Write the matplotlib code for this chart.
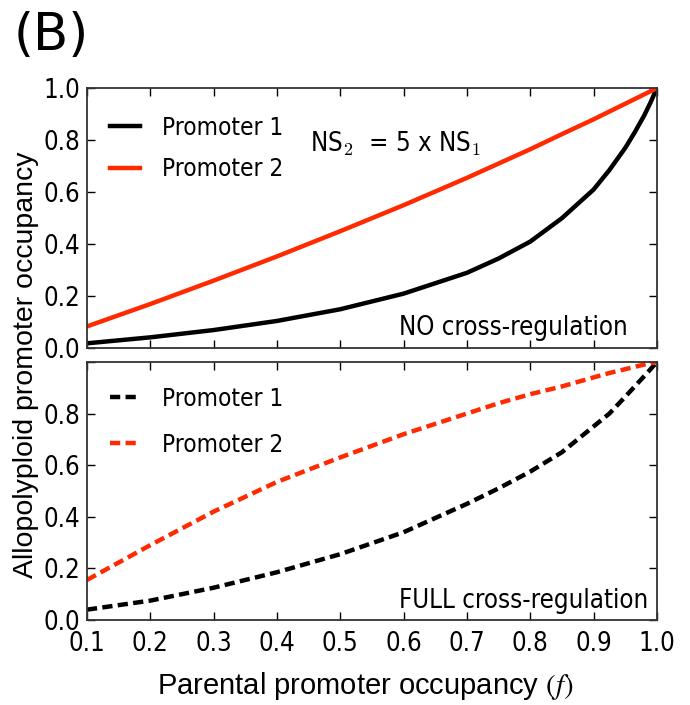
import matplotlib
matplotlib.use('Agg')
import matplotlib.pyplot as plt
from matplotlib import font_manager
from matplotlib.font_manager import FontProperties

# parental promoter occupancy f
f_vals = [0.1, 0.2, 0.3, 0.4, 0.5, 0.6, 0.7, 0.75, 0.8, 0.85, 0.9, 0.925, 0.95, 0.965, 0.98, 0.99, 1.0]

# NO cross-regulation
no_p1 = [0.019, 0.042, 0.07, 0.105, 0.15, 0.21, 0.29, 0.345, 0.41, 0.50, 0.61, 0.685, 0.77, 0.83, 0.895, 0.945, 1.0]
no_p2 = [0.084, 0.17, 0.26, 0.353, 0.45, 0.55, 0.655, 0.71, 0.765, 0.823, 0.88, 0.91, 0.94, 0.958, 0.976, 0.988, 1.0]

# FULL cross-regulation
full_p1 = [0.04, 0.075, 0.125, 0.185, 0.255, 0.34, 0.45, 0.51, 0.575, 0.65, 0.75, 0.80, 0.865, 0.905, 0.945, 0.972, 1.0]
full_p2 = [0.155, 0.29, 0.42, 0.535, 0.63, 0.72, 0.80, 0.84, 0.875, 0.905, 0.94, 0.957, 0.972, 0.981, 0.99, 0.995, 1.0]

x_ticks = [0.1, 0.2, 0.3, 0.4, 0.5, 0.6, 0.7, 0.8, 0.9, 1.0]
y_ticks = [0.0, 0.2, 0.4, 0.6, 0.8, 1.0]

red = '#ff2a00'

# condensed DejaVu Sans, like the squeezed look of the original
cond_path = None
for fe in font_manager.fontManager.ttflist:
    if fe.name == 'DejaVu Sans' and fe.stretch == 'condensed' and fe.style == 'normal' \
            and fe.weight in (400, 'normal'):
        cond_path = fe.fname
        break


def cond(size):
    if cond_path:
        return FontProperties(fname=cond_path, size=size)
    return FontProperties(family='DejaVu Sans', stretch='condensed', size=size)


fig = plt.figure(figsize=(6.9, 7.05), dpi=100)
ax1 = fig.add_axes([0.126, 0.506, 0.826, 0.369])
ax2 = fig.add_axes([0.126, 0.1206, 0.826, 0.366])

dash = (0, (2.3, 1.2))
ax1.plot(f_vals, no_p1, color='black', lw=3.2, label='Promoter 1')
ax1.plot(f_vals, no_p2, color=red, lw=3.2, label='Promoter 2')
ax2.plot(f_vals, full_p1, color='black', lw=3.2, ls=dash, label='Promoter 1')
ax2.plot(f_vals, full_p2, color=red, lw=3.2, ls=dash, label='Promoter 2')

for ax, sp_, ytop in ((ax1, 0.72, 0.931), (ax2, 0.9, 0.942)):
    ax.set_xlim(0.1, 1.0)
    ax.set_ylim(0.0, 1.0)
    ax.set_xticks(x_ticks)
    ax.set_yticks(y_ticks)
    ax.tick_params(direction='in', top=True, right=True, length=6, width=1, colors='black')
    ax.tick_params(axis='x', pad=8)
    ax.tick_params(axis='y', pad=5)
    for sp in ax.spines.values():
        sp.set_color('#333333')
        sp.set_linewidth(1.3)
    ax.legend(loc='upper left', bbox_to_anchor=(0.023, ytop), frameon=False,
              handlelength=1.23, handletextpad=0.9, borderaxespad=0, borderpad=0.4,
              labelspacing=sp_, prop=cond(17.5))

ax1.set_yticklabels(['0.0', '0.2', '0.4', '0.6', '0.8', '1.0'])
ax1.tick_params(labelbottom=False)
ax2.set_yticklabels(['0.0', '0.2', '0.4', '0.6', '0.8', ''])
ax2.set_xticklabels(['0.1', '0.2', '0.3', '0.4', '0.5', '0.6', '0.7', '0.8', '0.9', '1.0'])
for ax in (ax1, ax2):
    for lab in ax.get_xticklabels() + ax.get_yticklabels():
        lab.set_fontproperties(cond(18.5))

ax1.text(0.949, 0.05, 'NO cross-regulation', transform=ax1.transAxes, ha='right',
         va='baseline', fontproperties=cond(18.5))
ax2.text(0.984, 0.0465, 'FULL cross-regulation', transform=ax2.transAxes, ha='right',
         va='baseline', fontproperties=cond(18.5))
ns = ax1.text(0.391, 0.754, 'NS$_2$  = 5 x NS$_1$', transform=ax1.transAxes, ha='left',
              va='baseline', fontproperties=cond(18.5))
ns.set_math_fontfamily('cm')

fig.text(0.0377, 0.483, 'Allopolyploid promoter occupancy', rotation=90, ha='center',
         va='center', fontsize=20.5, family='Liberation Sans')
xl = fig.text(0.53, 0.015, 'Parental promoter occupancy $(f)$', ha='center', va='baseline',
              fontsize=21, family='Liberation Sans')
xl.set_math_fontfamily('stix')
fig.text(0.02, 0.985, '(B)', ha='left', va='top', fontsize=37, family='DejaVu Sans')

fig.savefig('out.png', dpi=100)
